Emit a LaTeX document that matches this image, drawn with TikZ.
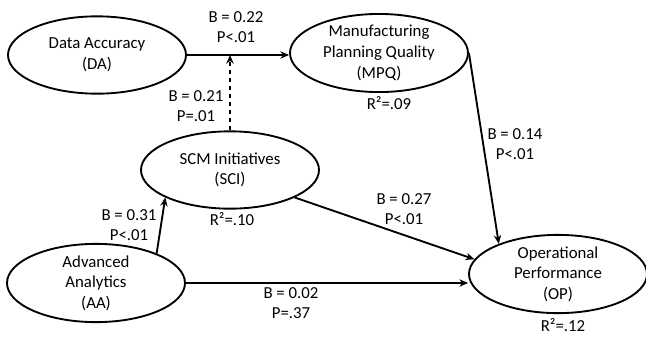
\documentclass[tikz,border=0pt]{standalone}
\usepackage{fontspec}
\setmainfont{Carlito}
\usetikzlibrary{
	arrows.meta,
	shapes.geometric,
	positioning,
	calc,
}
\tikzset{construct/.style={
		% The shape:
		ellipse,
		% The size:
		minimum width=133.5pt,minimum height=58pt,inner sep=0pt,
		% The border:
		draw=black,line width=1.4pt,
		% make sure text aligns properly
		align=center,
}}
\tikzset{coef/.style={
		% two lines, centred
		align=center,inner sep=0pt,
}}

\begin{document}
\begin{tikzpicture}[x=0.75pt,y=-0.75pt,>={Stealth[length=6.5pt,width=5.5pt]},line width=1.4pt,black,
	font=\fontsize{12.6}{15.5}\selectfont]
	\useasboundingbox (0,0) rectangle (646,337);
	\node[construct] (da) at (97,55) {Data Accuracy\\(DA)};
	\node[construct] (mpq) at (379,53) {Manufacturing\\Planning Quality\\(MPQ)};
	\node[construct] (sci) at (230,170) {SCM Initiatives\\(SCI)};
	\node[construct] (aa) at (96,283) {Advanced\\Analytics\\(AA)};
	\node[construct] (op) at (558,274) {Operational\\Performance\\(OP)};
	% paths
	\coordinate (join) at (sci.north |- da.east);
	\draw [->] (da.east) -- (da.east -| mpq.west);
	\draw [->,dashed] (sci.north) -- (join);
	\draw [->] (aa.26) -- (sci.203);
	\draw [->] (aa.east) -- (aa.east -| op.west);
	\draw [->] (sci.337) -- (op.170);
	\draw [->] (mpq.east) -- (op.153);
	% coefficients
	\node[coef] (cdampq) at (236,27) {B = 0.22\\P<.01};
	\node[coef] (cscimod) at (196,106) {B = 0.21\\P=.01};
	\node[coef] (caasci) at (129,225) {B = 0.31\\P<.01};
	\node[coef] (caaop) at (291,303) {B = 0.02\\P=.37};
	\node[coef] (csciop) at (404,209) {B = 0.27\\P<.01};
	\node[coef] (cmpqop) at (515,144) {B = 0.14\\P<.01};
	% explained variance
	\node[coef] (rmpq) at (389,103) {R²=.09};
	\node[coef] (rsci) at (232,219) {R²=.10};
	\node[coef] (rop) at (563,325) {R²=.12};
\end{tikzpicture}
\end{document}
